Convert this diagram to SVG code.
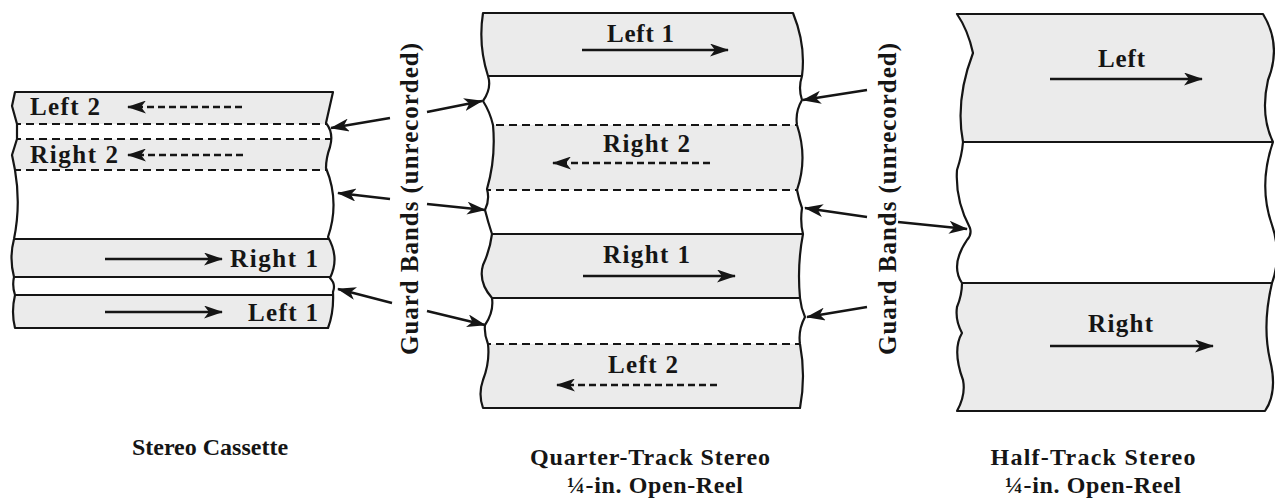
<svg xmlns="http://www.w3.org/2000/svg" width="1275" height="501" viewBox="0 0 1275 501">
<style>
.bg{fill:#ffffff}
.band{fill:#ebebeb}
.edge{fill:none;stroke:#151515;stroke-width:2.2;stroke-linejoin:round}
.solid{stroke:#151515;stroke-width:2.2;fill:none}
.dash{stroke:#151515;stroke-width:2.2;fill:none;stroke-dasharray:8 5}
.arr{stroke:#151515;stroke-width:2.6;fill:none;marker-end:url(#ah)}
.darr{stroke:#151515;stroke-width:2.6;fill:none;stroke-dasharray:7 4;marker-end:url(#ah)}
.conn{stroke:#151515;stroke-width:2.4;fill:none;marker-end:url(#ah)}
.lbl{font-family:"Liberation Serif",serif;font-weight:bold;font-size:25px;fill:#151515}
.cap{font-family:"Liberation Serif",serif;font-weight:bold;font-size:24px;fill:#151515}
</style>
<defs>
<marker id="ah" markerUnits="userSpaceOnUse" markerWidth="19" markerHeight="13" viewBox="0 0 19 13" refX="18" refY="6.5" orient="auto">
<path d="M0,0 L19,6.5 L0,13 L5,6.5 Z" fill="#151515" stroke="none"/>
</marker>
<path id="t1" d="M15,92 L333,92 L326,123 Q334,133 330,147 Q326,158 326,168 Q340,202 328,237 Q340,258 330,278 Q336,284 333,292 Q334,312 328,328 L15,328 Q11,312 15,295 Q12,286 14,277 Q9,258 14,239 Q21,205 15,170 L12,155 L17,139 L17,124 L12,106 Z"/>
<path id="t2" d="M483,13 L793,13 Q806,45 802,76 Q798,88 802,100 Q795,112 797,125 Q808,158 797,190 Q799,200 802,208 Q800,222 803,234 Q797,265 800,298 Q801,308 805,317 Q798,330 800,344 Q806,376 800,408 L483,408 Q478,394 483,380 Q490,362 488,344 Q484,334 485,325 Q494,312 492,298 Q478,282 483,265 Q490,250 492,234 Q488,222 485,210 Q490,200 487,189 Q496,158 493,125 Q490,112 483,101 Q492,88 488,76 Q478,45 483,13 Z"/>
<path id="t3" d="M957,14 L1263,14 Q1282,45 1268,80 Q1260,115 1273,142 Q1258,185 1272,225 Q1282,255 1272,283 Q1262,325 1270,360 Q1278,392 1265,411 L957,411 Q966,395 963,380 Q952,350 962,333 Q955,320 957,307 Q962,295 962,283 Q950,265 967,240 Q972,235 970,228 Q955,200 957,170 Q962,155 963,142 Q955,100 973,53 Q968,30 957,14 Z"/>
<clipPath id="c1"><use href="#t1"/></clipPath>
<clipPath id="c2"><use href="#t2"/></clipPath>
<clipPath id="c3"><use href="#t3"/></clipPath>
</defs>
<rect x="0" y="0" width="1275" height="501" fill="#ffffff"/>

<g id="cassette">
<use href="#t1" class="bg"/>
<g clip-path="url(#c1)">
<rect class="band" x="0" y="92" width="350" height="32"/>
<rect class="band" x="0" y="139" width="350" height="31"/>
<rect class="band" x="0" y="239" width="350" height="38"/>
<rect class="band" x="0" y="295" width="350" height="33"/>
<line class="dash" x1="0" y1="124" x2="350" y2="124"/>
<line class="dash" x1="0" y1="139" x2="350" y2="139"/>
<line class="dash" x1="0" y1="170" x2="350" y2="170"/>
<line class="solid" x1="0" y1="239" x2="350" y2="239"/>
<line class="solid" x1="0" y1="277" x2="350" y2="277"/>
<line class="solid" x1="0" y1="295" x2="350" y2="295"/>
</g>
<use href="#t1" class="edge"/>
<text class="lbl" x="30" y="115" textLength="70">Left 2</text>
<line class="darr" x1="242" y1="107" x2="128" y2="107"/>
<text class="lbl" x="30" y="163" textLength="88">Right 2</text>
<line class="darr" x1="243" y1="155" x2="128" y2="155"/>
<line class="arr" x1="105" y1="259" x2="222" y2="259"/>
<text class="lbl" x="230" y="267" textLength="88">Right 1</text>
<line class="arr" x1="105" y1="312" x2="222" y2="312"/>
<text class="lbl" x="248" y="321" textLength="70">Left 1</text>
<text class="cap" x="210" y="455" text-anchor="middle">Stereo Cassette</text>
</g>

<g id="quarter-track">
<use href="#t2" class="bg"/>
<g clip-path="url(#c2)">
<rect class="band" x="470" y="13" width="350" height="63"/>
<rect class="band" x="470" y="125" width="350" height="65"/>
<rect class="band" x="470" y="234" width="350" height="64"/>
<rect class="band" x="470" y="344" width="350" height="64"/>
<line class="solid" x1="470" y1="76" x2="820" y2="76"/>
<line class="dash" x1="470" y1="125" x2="820" y2="125"/>
<line class="dash" x1="470" y1="190" x2="820" y2="190"/>
<line class="solid" x1="470" y1="234" x2="820" y2="234"/>
<line class="solid" x1="470" y1="298" x2="820" y2="298"/>
<line class="dash" x1="470" y1="344" x2="820" y2="344"/>
</g>
<use href="#t2" class="edge"/>
<text class="lbl" x="607" y="42" textLength="67">Left 1</text>
<line class="arr" x1="582" y1="50" x2="728" y2="50"/>
<text class="lbl" x="603" y="152" textLength="87">Right 2</text>
<line class="darr" x1="710" y1="163" x2="553" y2="163"/>
<text class="lbl" x="603" y="263" textLength="87">Right 1</text>
<line class="arr" x1="583" y1="276" x2="735" y2="276"/>
<text class="lbl" x="608" y="373" textLength="70">Left 2</text>
<line class="darr" x1="717" y1="385" x2="557" y2="385"/>
<text class="cap" x="650" y="465" text-anchor="middle" textLength="240">Quarter-Track Stereo</text>
<text class="cap" x="655" y="493" text-anchor="middle" textLength="176">¼-in. Open-Reel</text>
</g>

<g id="half-track">
<use href="#t3" class="bg"/>
<g clip-path="url(#c3)">
<rect class="band" x="945" y="14" width="340" height="128"/>
<rect class="band" x="945" y="283" width="340" height="128"/>
<line class="solid" x1="945" y1="142" x2="1285" y2="142"/>
<line class="solid" x1="945" y1="283" x2="1285" y2="283"/>
</g>
<use href="#t3" class="edge"/>
<text class="lbl" x="1098" y="67" textLength="47">Left</text>
<line class="arr" x1="1050" y1="79" x2="1202" y2="79"/>
<text class="lbl" x="1088" y="332" textLength="65">Right</text>
<line class="arr" x1="1050" y1="346" x2="1213" y2="346"/>
<text class="cap" x="1093" y="465" text-anchor="middle" textLength="205">Half-Track Stereo</text>
<text class="cap" x="1093" y="493" text-anchor="middle" textLength="176">¼-in. Open-Reel</text>
</g>

<g id="guard-label-left">
<text class="lbl" transform="translate(418,199) rotate(-90)" x="0" y="0" text-anchor="middle" textLength="312">Guard Bands (unrecorded)</text>
</g>
<g id="guard-label-right">
<text class="lbl" transform="translate(896,199) rotate(-90)" x="0" y="0" text-anchor="middle" textLength="312">Guard Bands (unrecorded)</text>
</g>

<g id="connectors">
<line class="conn" x1="390" y1="118" x2="331" y2="128"/>
<line class="conn" x1="390" y1="199" x2="338" y2="193"/>
<line class="conn" x1="392" y1="303" x2="338" y2="289"/>
<line class="conn" x1="427" y1="112" x2="482" y2="101"/>
<line class="conn" x1="427" y1="204" x2="485" y2="210"/>
<line class="conn" x1="427" y1="311" x2="485" y2="325"/>
<line class="conn" x1="867" y1="90" x2="803" y2="100"/>
<line class="conn" x1="867" y1="217" x2="805" y2="208"/>
<line class="conn" x1="867" y1="307" x2="807" y2="317"/>
<line class="conn" x1="898" y1="222" x2="967" y2="229"/>
</g>
</svg>
